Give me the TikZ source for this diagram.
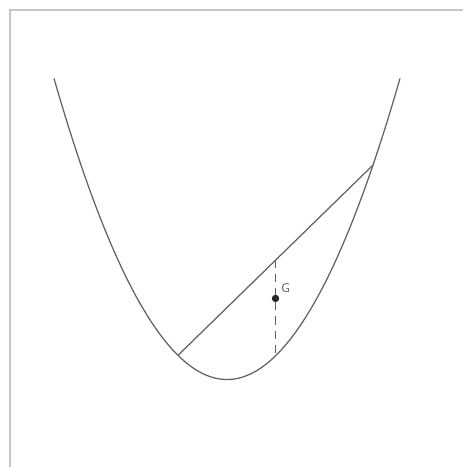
\documentclass[tikz,border=0pt]{standalone}
\usetikzlibrary{calc}
\begin{document}
\begin{tikzpicture}[x=0.01cm,y=-0.01cm,
  frame/.style={draw=black!22,line width=0.3pt},
  curve/.style={draw=black!62,line width=0.35pt},
  dashline/.style={draw=black!62,line width=0.35pt,dash pattern=on 2.3pt off 1.7pt},
  lbl/.style={font=\fontsize{3.6}{4}\sffamily,text=black!60,inner sep=0pt},
  declare function={f(\x)=379.5-100.6*((\x-227)/100)^2;}]
\useasboundingbox (0,0) rectangle (463,467);
\draw[frame] (10,467) -- (10,10) -- (463,10);
\draw[curve] plot[domain=54:400,samples=150,smooth] (\x,{f(\x)});
\coordinate (A) at (178,{f(178)});
\coordinate (B) at (373,{f(373)});
\draw[curve] (A) -- (B);
\coordinate (M) at ($(A)!0.5!(B)$);
\coordinate (P) at (275.5,{f(275.5)});
\draw[dashline] (M) -- (P);
\coordinate (G) at ($(M)!0.4!(P)$);
\fill[black!85] (G) circle[radius=1.05pt];
\node[lbl] (Glab) at (285.5,288) {G};
\end{tikzpicture}
\end{document}
